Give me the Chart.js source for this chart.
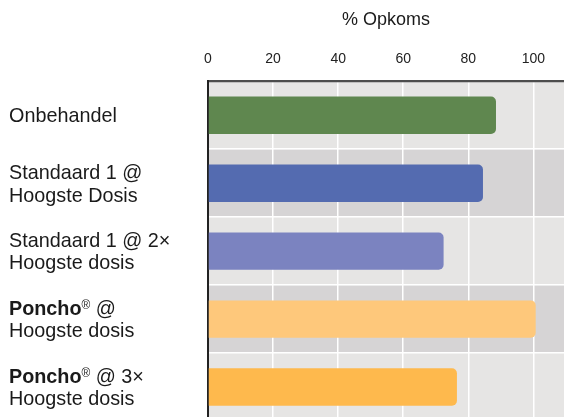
<!DOCTYPE html>
<html>
<head>
<meta charset="utf-8">
<script src="https://cdn.jsdelivr.net/npm/chart.js@4"></script>
<style>
    html, body { margin: 0; padding: 0; overflow: hidden; background: #fff; }
    #wrap { width: 564px; height: 421px; }
</style>
</head>
<body>
<div id="wrap"><canvas id="chart" width="564" height="421"></canvas></div>
<script>
// Chart data
const labelLines = [
    ['Onbehandel'],
    ['Standaard 1 @', 'Hoogste Dosis'],
    ['Standaard 1 @ 2\u00d7', 'Hoogste dosis'],
    ['*Poncho*^\u00ae^ @', 'Hoogste dosis'],
    ['*Poncho*^\u00ae^ @ 3\u00d7', 'Hoogste dosis']
];
const categories = labelLines.map(l => l.join(' ').replace(/[*^]/g, ''));
const opkoms = [88.5, 84.5, 72.4, 100.7, 76.5];
const barColors = ['#5f874f', '#546bb0', '#7b83c0', '#fec87b', '#feb94d'];
const xTicks = [0, 20, 40, 60, 80, 100];
const xTitle = '% Opkoms';

const FONT = '"Liberation Sans", Arial, Helvetica, sans-serif';

// Alternating row bands behind the bars
const bandPlugin = {
    id: 'bands',
    beforeDraw(chart) {
        const { ctx, chartArea } = chart;
        const y = chart.scales.y;
        const step = (chartArea.bottom - chartArea.top) / categories.length;
        ctx.save();
        categories.forEach((c, i) => {
            ctx.fillStyle = i % 2 === 0 ? '#e6e5e4' : '#d6d4d5';
            const top = y.getPixelForValue(i) - step / 2;
            ctx.fillRect(chartArea.left, top, chartArea.right - chartArea.left, step);
        });
        ctx.restore();
    }
};

// Left labels with bold and superscript parts
const labelPlugin = {
    id: 'leftLabels',
    afterDraw(chart) {
        const ctx = chart.ctx;
        const y = chart.scales.y;
        const size = 19.8;
        const lineGap = 22.6;
        ctx.save();
        ctx.fillStyle = '#1a1a1a';
        ctx.textBaseline = 'alphabetic';
        labelLines.forEach((lines, i) => {
            const center = y.getPixelForValue(i);
            const first = center + 7 - (lines.length - 1) * lineGap / 2;
            lines.forEach((line, j) => {
                let x = 9;
                const base = first + j * lineGap;
                const parts = line.match(/(\*[^*]+\*|\^[^^]+\^|[^*^]+)/g);
                parts.forEach(p => {
                    let txt = p, dy = 0;
                    if (p[0] === '*') {
                        txt = p.slice(1, -1);
                        ctx.font = `bold ${size}px ${FONT}`;
                    } else if (p[0] === '^') {
                        txt = p.slice(1, -1);
                        ctx.font = `${size * 0.6}px ${FONT}`;
                        dy = -6;
                    } else {
                        ctx.font = `${size}px ${FONT}`;
                    }
                    ctx.fillText(txt, x, base + dy);
                    x += ctx.measureText(txt).width;
                });
            });
        });
        ctx.restore();
    }
};

const ctx = document.getElementById('chart').getContext('2d');
new Chart(ctx, {
    type: 'bar',
    data: {
        labels: categories,
        datasets: [{
            data: opkoms,
            backgroundColor: barColors,
            borderRadius: 5,
            borderSkipped: 'start',
            barPercentage: 0.55,
            categoryPercentage: 1
        }]
    },
    options: {
        indexAxis: 'y',
        responsive: false,
        animation: false,
        layout: { padding: { left: 208, top: 9.5, right: 0, bottom: 0 } },
        plugins: {
            legend: { display: false },
            tooltip: { enabled: false }
        },
        scales: {
            x: {
                position: 'top',
                min: 0,
                max: 109.4,
                afterBuildTicks: (scale) => {
                    scale.ticks = xTicks.map(v => ({ value: v }));
                },
                ticks: {
                    color: '#222',
                    font: { family: FONT, size: 14 },
                    padding: 13.7
                },
                grid: {
                    color: (c) => c.index === 0 ? 'rgba(0,0,0,0)' : '#ffffff',
                    lineWidth: 1.5,
                    drawTicks: false
                },
                border: { display: true, color: '#4d4d4d', width: 2.3 },
                title: {
                    display: true,
                    text: xTitle,
                    color: '#1a1a1a',
                    font: { family: FONT, size: 18 },
                    padding: { top: 0, bottom: 6 }
                }
            },
            y: {
                ticks: { display: false },
                grid: {
                    color: (c) => c.index === 0 ? 'rgba(0,0,0,0)' : '#ffffff',
                    lineWidth: 1.5,
                    drawTicks: false
                },
                border: { display: true, color: '#222', width: 2 }
            }
        }
    },
    plugins: [bandPlugin, labelPlugin]
});
</script>
</body>
</html>
